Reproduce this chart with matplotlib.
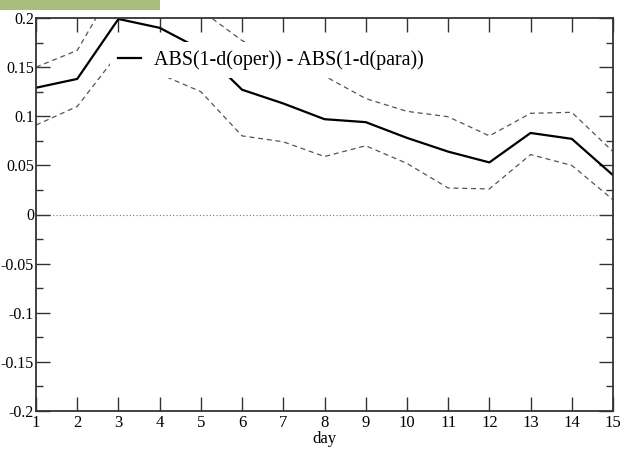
import matplotlib
matplotlib.use("Agg")
import matplotlib.pyplot as plt
from matplotlib.patches import Rectangle
from matplotlib.ticker import MultipleLocator

days = list(range(1, 16))
diff_mean = [0.129, 0.138, 0.199, 0.190, 0.168, 0.127, 0.113, 0.097, 0.094, 0.078,
             0.064, 0.053, 0.083, 0.077, 0.040]
diff_upper = [0.150, 0.167, 0.239, 0.235, 0.208, 0.177, 0.159, 0.141, 0.118, 0.105,
              0.0995, 0.080, 0.103, 0.104, 0.064]
diff_lower = [0.091, 0.110, 0.164, 0.143, 0.125, 0.080, 0.074, 0.059, 0.070, 0.052,
              0.027, 0.026, 0.061, 0.050, 0.015]
yticks = [-0.2, -0.15, -0.1, -0.05, 0, 0.05, 0.1, 0.15, 0.2]
ytick_labels = ["-0.2", "-0.15", "-0.1", "-0.05", "0", "0.05", "0.1", "0.15", "0.2"]
legend_label = "ABS(1-d(oper)) - ABS(1-d(para))"

plt.rcParams['font.family'] = ['Liberation Serif', 'DejaVu Serif']

fig = plt.figure(figsize=(6.22, 4.49), dpi=100)
ax = fig.add_axes([36/622, 38/449, 577/622, 393/449])

# green strip in the top left corner
fig.patches.append(Rectangle((0, 1 - 10/449), 160/622, 10/449, transform=fig.transFigure,
                             facecolor="#abbd7c", edgecolor="none"))

ax.axhline(0, color="#777777", lw=0.8, ls=(0, (1, 2)), zorder=1)
ax.plot(days, diff_upper, color="#555555", lw=0.9, ls=(0, (4, 3)))
ax.plot(days, diff_lower, color="#555555", lw=0.9, ls=(0, (4, 3)))
ax.plot(days, diff_mean, color="black", lw=1.6, label=legend_label)

ax.set_xlim(1, 15)
ax.set_ylim(-0.2, 0.2)
ax.set_xticks(days)
ax.set_yticks(yticks)
ax.set_yticklabels(ytick_labels)
ax.yaxis.set_minor_locator(MultipleLocator(0.025))
ax.tick_params(which="both", direction="in", top=True, right=True,
               color="#333333", pad=3)
ax.tick_params(axis="x", labelsize=12)
ax.tick_params(axis="y", labelsize=11.5, pad=1.5)
ax.tick_params(which="major", length=10, width=1)
ax.tick_params(which="minor", length=5, width=1)
for s in ax.spines.values():
    s.set_color("#333333")
    s.set_linewidth(1.3)

ax.set_xlabel("day", fontsize=12, labelpad=0)

ax.legend(loc="upper left", bbox_to_anchor=(0.128, 0.938), fontsize=14.4,
          frameon=True, facecolor="white", edgecolor="none", framealpha=1,
          fancybox=False, handlelength=1.15, handletextpad=0.65, borderpad=0.4,
          borderaxespad=0)

plt.savefig("out.png", dpi=100)
